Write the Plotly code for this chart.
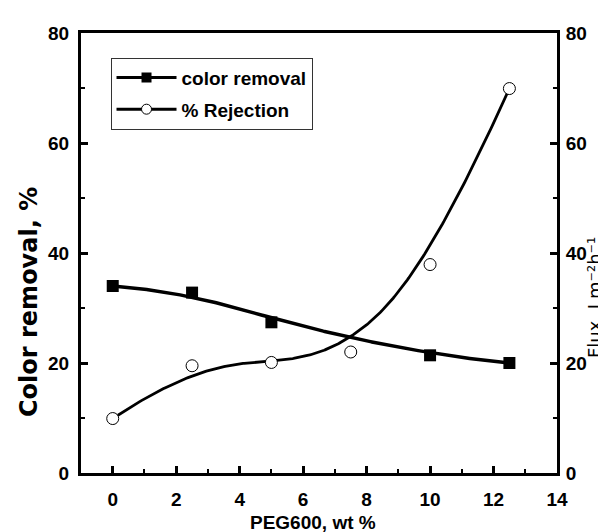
import numpy as np
import plotly.graph_objects as go

# ---- data ----
peg_color = [0, 2.5, 5, 10, 12.5]
color_removal = [34.0, 32.8, 27.4, 21.4, 20.0]
peg_rej = [0, 2.5, 5, 7.5, 10, 12.5]
rejection = [9.9, 19.5, 20.1, 22.0, 37.9, 69.9]
x_ticks = [0, 2, 4, 6, 8, 10, 12, 14]
y_ticks = [0, 20, 40, 60, 80]


def bspline(xs, ys, degree=3, n=300):
    """Clamped B-spline using the data points as control points (Origin style)."""
    P = np.column_stack([xs, ys]).astype(float)
    m = len(P)
    p = min(degree, m - 1)
    inner = np.linspace(0, 1, m - p + 1)[1:-1]
    knots = np.concatenate([np.zeros(p + 1), inner, np.ones(p + 1)])
    t = np.linspace(0, 1, n)
    t[-1] = 1 - 1e-12

    def N(i, k, tt):
        if k == 0:
            return np.where((knots[i] <= tt) & (tt < knots[i + 1]), 1.0, 0.0)
        a = np.zeros_like(tt)
        b = np.zeros_like(tt)
        d1 = knots[i + k] - knots[i]
        d2 = knots[i + k + 1] - knots[i + 1]
        if d1 > 0:
            a = (tt - knots[i]) / d1 * N(i, k - 1, tt)
        if d2 > 0:
            b = (knots[i + k + 1] - tt) / d2 * N(i + 1, k - 1, tt)
        return a + b

    B = np.column_stack([N(i, p, t) for i in range(m)])
    C = B @ P
    return C[:, 0], C[:, 1]


cx, cy = bspline(peg_color, color_removal)
rx, ry = bspline(peg_rej, rejection)

NARROW = "Liberation Sans Narrow, Arial Narrow, Liberation Sans, Arial"

fig = go.Figure()
# curves
fig.add_trace(go.Scatter(x=cx, y=cy, mode="lines", line=dict(color="black", width=3.5),
                         showlegend=False, hoverinfo="skip"))
fig.add_trace(go.Scatter(x=rx, y=ry, mode="lines", line=dict(color="black", width=2.8),
                         showlegend=False, hoverinfo="skip", yaxis="y2"))
# markers
fig.add_trace(go.Scatter(x=peg_color, y=color_removal, mode="markers",
                         marker=dict(symbol="square", size=12, color="black"),
                         showlegend=False))
fig.add_trace(go.Scatter(x=peg_rej, y=rejection, mode="markers", yaxis="y2",
                         marker=dict(symbol="circle", size=12, color="white",
                                     line=dict(color="black", width=1)),
                         showlegend=False))
# legend entries
fig.add_trace(go.Scatter(x=[None], y=[None], mode="lines+markers", name="color removal",
                         legendgroup="a",
                         line=dict(color="black", width=3),
                         marker=dict(symbol="square", size=10, color="black")))
fig.add_trace(go.Scatter(x=[None], y=[None], mode="lines+markers", name="% Rejection",
                         legendgroup="b",
                         line=dict(color="black", width=3),
                         marker=dict(symbol="circle", size=10, color="white",
                                     line=dict(color="black", width=1))))

tickfont = dict(family=NARROW, size=19, color="black", weight="bold")

fig.update_layout(
    width=606, height=532,
    margin=dict(l=73, r=57, t=25, b=67),
    plot_bgcolor="white", paper_bgcolor="white",
    xaxis=dict(range=[-1, 14], tickvals=x_ticks, ticktext=[str(v) for v in x_ticks],
               ticks="inside", ticklen=7, tickwidth=2.5, tickcolor="black",
               minor=dict(dtick=1, tick0=0, ticks="inside", ticklen=4, tickwidth=2, tickcolor="black"),
               showline=True, linewidth=3, linecolor="black", mirror=True,
               showgrid=False, zeroline=False, tickfont=tickfont, ticklabelstandoff=7),
    yaxis=dict(range=[0, 80], tickvals=y_ticks, ticktext=[str(v) for v in y_ticks],
               ticks="inside", ticklen=7, tickwidth=2.5, tickcolor="black",
               minor=dict(dtick=10, tick0=0, ticks="inside", ticklen=4, tickwidth=2, tickcolor="black"),
               showline=True, linewidth=3, linecolor="black",
               showgrid=False, zeroline=False, tickfont=tickfont, ticklabelstandoff=5),
    yaxis2=dict(range=[0, 80], tickvals=y_ticks, ticktext=[str(v) for v in y_ticks],
                overlaying="y", side="right",
                ticks="inside", ticklen=7, tickwidth=2.5, tickcolor="black",
                minor=dict(dtick=10, tick0=0, ticks="inside", ticklen=4, tickwidth=2, tickcolor="black"),
                showline=True, linewidth=3, linecolor="black",
                showgrid=False, zeroline=False, tickfont=tickfont, ticklabelstandoff=2),
    legend=dict(x=0.062, y=0.944, xanchor="left", yanchor="top",
                bordercolor="#333333", borderwidth=1, bgcolor="white",
                itemwidth=60, tracegroupgap=4, traceorder="grouped",
                font=dict(family=NARROW, size=19, color="black", weight="bold")),
    annotations=[
        dict(text="Color removal, %", xref="paper", yref="paper",
             x=(21 - 73) / 476, y=(465 - 294) / 440, textangle=-90, showarrow=False,
             xanchor="center", yanchor="middle",
             font=dict(family="DejaVu Sans", size=24, color="black", weight="bold")),
        dict(text="Flux, Lm\u207b\u00b2h\u207b\u00b9", xref="paper", yref="paper",
             x=(586 - 73) / 476, y=(465 - 290) / 440, textangle=-90, showarrow=False,
             xanchor="center", yanchor="middle",
             font=dict(family="DejaVu Sans", size=18, color="black")),
        dict(text="PEG600, wt %", xref="paper", yref="paper",
             x=(305 - 73) / 476, y=(465 - 514) / 440, showarrow=False,
             xanchor="center", yanchor="middle",
             font=dict(family=NARROW, size=19, color="black", weight="bold")),
    ],
)

fig.write_html("out.html")
